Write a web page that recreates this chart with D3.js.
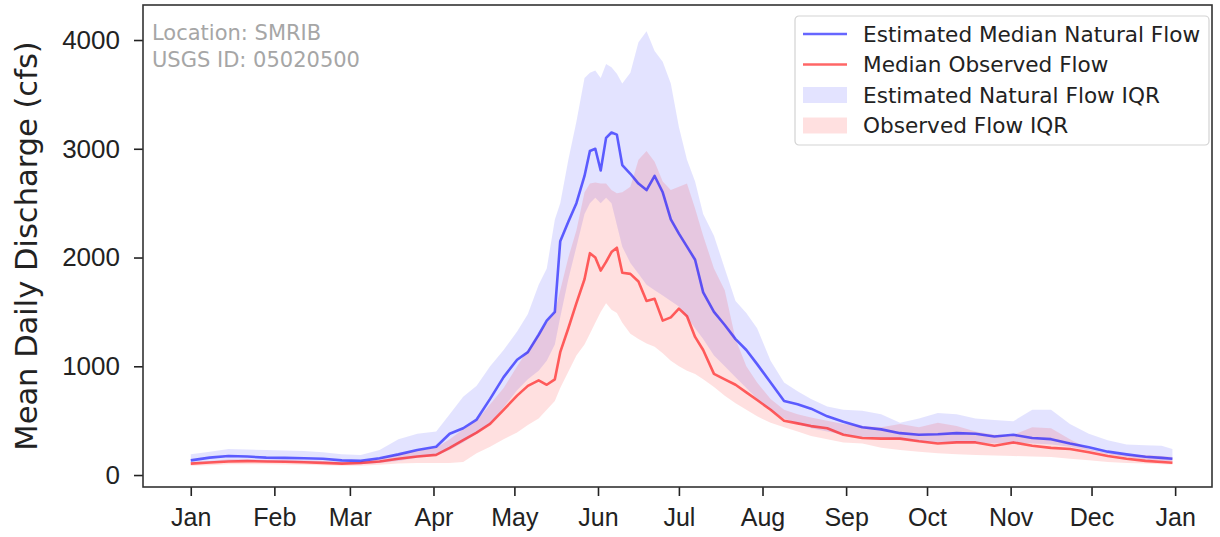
<!DOCTYPE html>
<html>
<head>
<meta charset="utf-8">
<script src="https://cdn.jsdelivr.net/npm/d3@7"></script>
<style>
  body { margin: 0; background: #fff; }
  svg { font-family: "DejaVu Sans", sans-serif; }
  .tick text { fill: #222; }
</style>
</head>
<body>
<div id="chart"></div>
<script>
// Day of year (0 = Jan 1) for each sample
const days = [0, 7, 14, 21, 28, 35, 42, 49, 56, 63, 70, 77, 84, 91, 96, 101, 106, 111, 116, 121,
  125, 129, 132, 135, 137, 140, 143, 146, 148, 150, 152, 154, 156, 158, 160, 163, 166, 169, 172, 175,
  178, 181, 184, 187, 190, 194, 198, 202, 206, 210, 215, 220, 225, 230, 236, 242, 249, 256, 263, 270,
  277, 284, 291, 298, 305, 312, 319, 326, 333, 340, 347, 354, 360, 364];

// Estimated median natural flow (cfs)
const naturalMedian = [135, 160, 175, 170, 160, 158, 155, 150, 135, 130, 155, 190, 230, 260, 380, 430, 510, 700, 900, 1060,
  1130, 1290, 1420, 1500, 2150, 2330, 2500, 2750, 2980, 3000, 2800, 3100, 3150, 3130, 2850, 2770, 2680, 2620, 2750, 2600,
  2350, 2220, 2100, 1980, 1680, 1500, 1380, 1250, 1150, 1020, 850, 680, 650, 610, 540, 490, 440, 420, 385, 370,
  375, 385, 380, 355, 370, 340, 330, 290, 255, 215, 190, 168, 158, 150];

// Median observed flow (cfs)
const observedMedian = [105, 115, 125, 128, 125, 122, 118, 112, 105, 110, 125, 150, 170, 185, 250, 320, 390, 470, 600, 730,
  820, 870, 830, 880, 1130, 1350, 1580, 1800, 2040, 2000, 1880, 1960, 2050, 2090, 1860, 1850, 1780, 1600, 1620, 1420,
  1450, 1530, 1460, 1270, 1150, 930, 880, 830, 760, 690, 600, 500, 475, 450, 430, 370, 340, 335, 335, 310,
  290, 300, 300, 270, 300, 270, 250, 240, 210, 175, 150, 130, 120, 113];

// Estimated natural flow IQR (25th / 75th percentile)
const naturalLow = [115, 120, 130, 130, 125, 120, 118, 112, 100, 100, 110, 130, 160, 180, 230, 300, 380, 470, 620, 780,
  880, 960, 1050, 1200, 1450, 1800, 2100, 2400, 2500, 2550, 2500, 2550, 2500, 2300, 2100, 1950, 1850, 1750, 1700, 1650,
  1600, 1550, 1450, 1350, 1250, 1100, 1000, 900, 800, 700, 600, 520, 470, 430, 400, 370, 350, 340, 330, 310,
  300, 300, 300, 290, 300, 290, 280, 260, 225, 190, 165, 140, 130, 125];
const naturalHigh = [190, 215, 240, 235, 230, 225, 220, 210, 190, 185, 230, 330, 380, 400, 560, 720, 820, 1000, 1150, 1320,
  1480, 1750, 1900, 2350, 2500, 2900, 3250, 3650, 3700, 3720, 3650, 3780, 3750, 3690, 3600, 3700, 3980, 4080, 3900, 3800,
  3600, 3200, 2900, 2700, 2400, 2200, 1900, 1600, 1490, 1350, 1050, 850, 770, 700, 630, 600, 590, 560, 480, 520,
  570, 560, 520, 505, 495, 600, 600, 470, 380, 320, 280, 275, 270, 240];

// Observed flow IQR (25th / 75th percentile)
const observedLow = [85, 90, 100, 100, 100, 98, 95, 90, 85, 85, 95, 105, 110, 110, 110, 120, 200, 260, 330, 390,
  460, 520, 600, 680, 800, 950, 1100, 1200, 1300, 1400, 1500, 1580, 1520, 1490, 1400, 1300, 1250, 1210, 1180, 1120,
  1050, 1000, 960, 930, 880, 810, 730, 660, 600, 540, 480, 440, 400, 360, 330, 300, 290, 250, 230, 215,
  200, 190, 185, 180, 175, 170, 165, 150, 135, 120, 110, 105, 100, 98];
const observedHigh = [120, 130, 145, 145, 140, 140, 135, 130, 120, 120, 150, 190, 220, 250, 330, 420, 500, 650, 800, 1000,
  1150, 1300, 1400, 1500, 1700, 2000, 2250, 2600, 2680, 2690, 2680, 2680, 2620, 2590, 2600, 2650, 2900, 2980, 2880, 2700,
  2620, 2650, 2680, 2450, 2200, 1900, 1700, 1250, 1000, 850, 700, 600, 560, 530, 500, 470, 450, 440, 470, 440,
  480, 450, 400, 370, 370, 440, 430, 330, 240, 200, 185, 184, 175, 165];

const yTicks = [0, 1000, 2000, 3000, 4000];
const legendLabels = ["Estimated Median Natural Flow", "Median Observed Flow", "Estimated Natural Flow IQR", "Observed Flow IQR"];
const infoLines = ["Location: SMRIB", "USGS ID: 05020500"];

const W = 1220, H = 537;
const margin = { top: 5, right: 8, bottom: 50, left: 143 };

const year0 = new Date(2001, 0, 1);
const rows = days.map((d, i) => ({
    date: d3.timeDay.offset(year0, d),
    nat: naturalMedian[i],
    obs: observedMedian[i],
    natLo: naturalLow[i],
    natHi: naturalHigh[i],
    obsLo: observedLow[i],
    obsHi: observedHigh[i]
}));

const svg = d3.select("#chart")
    .append("svg")
        .attr("width", W)
        .attr("height", H);

const x = d3.scaleTime()
    .domain([d3.timeHour.offset(year0, -17.7 * 24), d3.timeHour.offset(year0, 378.7 * 24)])
    .range([margin.left, W - margin.right]);
const y = d3.scaleLinear()
    .domain([-110, 4322])
    .range([H - margin.bottom, margin.top]);

// IQR bands
const area = (lo, hi) => d3.area()
    .x(d => x(d.date))
    .y0(d => y(d[lo]))
    .y1(d => y(d[hi]));

svg.append("path")
    .datum(rows)
    .attr("d", area("natLo", "natHi"))
    .attr("fill", "blue")
    .attr("fill-opacity", 0.11);
svg.append("path")
    .datum(rows)
    .attr("d", area("obsLo", "obsHi"))
    .attr("fill", "red")
    .attr("fill-opacity", 0.12);

// Median lines
const line = key => d3.line()
    .x(d => x(d.date))
    .y(d => y(d[key]));

svg.append("path")
    .datum(rows)
    .attr("d", line("nat"))
    .attr("fill", "none")
    .attr("stroke", "blue")
    .attr("stroke-opacity", 0.6)
    .attr("stroke-width", 2.6)
    .attr("stroke-linejoin", "round");
svg.append("path")
    .datum(rows)
    .attr("d", line("obs"))
    .attr("fill", "none")
    .attr("stroke", "red")
    .attr("stroke-opacity", 0.6)
    .attr("stroke-width", 2.6)
    .attr("stroke-linejoin", "round");

// Axes
svg.append("g")
    .attr("transform", `translate(0,${H - margin.bottom})`)
    .call(d3.axisBottom(x)
        .ticks(d3.timeMonth.every(1))
        .tickFormat(d3.timeFormat("%b"))
        .tickSize(9)
        .tickPadding(12))
    .call(g => g.select(".domain").remove())
    .call(g => g.selectAll(".tick line").attr("stroke", "#222").attr("stroke-width", 1.6))
    .call(g => g.selectAll(".tick text").attr("font-size", 25));

svg.append("g")
    .attr("transform", `translate(${margin.left},0)`)
    .call(d3.axisLeft(y)
        .tickValues(yTicks)
        .tickFormat(d3.format("d"))
        .tickSize(9)
        .tickPadding(14))
    .call(g => g.select(".domain").remove())
    .call(g => g.selectAll(".tick line").attr("stroke", "#222").attr("stroke-width", 1.6))
    .call(g => g.selectAll(".tick text").attr("font-size", 26));

// Frame
svg.append("rect")
    .attr("x", margin.left)
    .attr("y", margin.top)
    .attr("width", W - margin.left - margin.right)
    .attr("height", H - margin.top - margin.bottom)
    .attr("fill", "none")
    .attr("stroke", "#333")
    .attr("stroke-width", 1.6);

// Y label
svg.append("text")
    .attr("transform", `translate(37,${(margin.top + H - margin.bottom) / 2}) rotate(-90)`)
    .attr("text-anchor", "middle")
    .attr("font-size", 30.5)
    .attr("fill", "#222")
    .text("Mean Daily Discharge (cfs)");

// Site info
svg.append("g")
    .selectAll("text")
    .data(infoLines)
    .join("text")
        .attr("x", 152)
        .attr("y", (d, i) => 40 + i * 27)
        .attr("font-size", 21)
        .attr("fill", "#a6a6a6")
        .text(d => d);

// Legend
const legend = svg.append("g").attr("transform", "translate(795,16)");
legend.append("rect")
    .attr("width", 414)
    .attr("height", 129)
    .attr("rx", 4)
    .attr("fill", "#fff")
    .attr("fill-opacity", 0.8)
    .attr("stroke", "#d3d3d3")
    .attr("stroke-width", 1.2);

const legendItems = legend.selectAll("g.item")
    .data(legendLabels)
    .join("g")
        .attr("class", "item")
        .attr("transform", (d, i) => `translate(0,${18 + i * 30.5})`);

legendItems.filter((d, i) => i < 2)
    .append("line")
        .attr("x1", 8).attr("x2", 52)
        .attr("stroke", (d, i) => i === 0 ? "blue" : "red")
        .attr("stroke-opacity", 0.6)
        .attr("stroke-width", 2.6);
legendItems.filter((d, i) => i >= 2)
    .append("rect")
        .attr("x", 8).attr("y", -8)
        .attr("width", 44).attr("height", 16)
        .attr("fill", (d, i) => i === 0 ? "blue" : "red")
        .attr("fill-opacity", (d, i) => i === 0 ? 0.11 : 0.12);
legendItems.append("text")
    .attr("x", 68)
    .attr("dy", "0.35em")
    .attr("font-size", 21.6)
    .attr("fill", "#222")
    .text(d => d);
</script>
</body>
</html>
